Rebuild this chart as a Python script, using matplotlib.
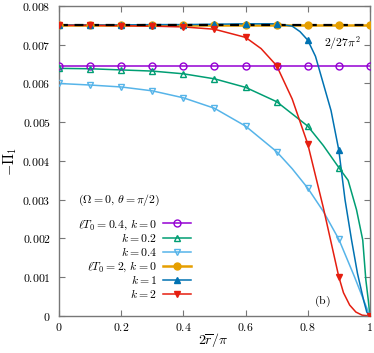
import numpy as np
import matplotlib
matplotlib.use("Agg")
import matplotlib.pyplot as plt

plt.rcParams["mathtext.fontset"] = "cm"
plt.rcParams["font.family"] = "serif"
plt.rcParams["font.serif"] = ["DejaVu Serif"]

# marker positions (every 0.1)
x_marks = [0.0, 0.1, 0.2, 0.3, 0.4, 0.5, 0.6, 0.7, 0.8, 0.9, 1.0]

# lT0 = 0.4
y_a0 = [0.00646] * 11
y_a02 = [0.00639, 0.00638, 0.00635, 0.00632, 0.00625, 0.00612, 0.0059, 0.00553, 0.0049, 0.00383, 0.0]
y_a04 = [0.0060, 0.00596, 0.00591, 0.00581, 0.00563, 0.00536, 0.0049, 0.00424, 0.0033, 0.00198, 0.0]
# lT0 = 2
y_b0 = [2 / (27 * np.pi ** 2)] * 11
y_b1 = [0.00751, 0.00751, 0.00751, 0.00752, 0.00752, 0.00753, 0.00754, 0.00754, 0.00712, 0.00428, 0.0]
y_b2 = [0.00750, 0.00750, 0.00749, 0.00748, 0.00746, 0.0074, 0.00719, 0.00646, 0.00444, 0.00101, 0.0]

# extra points read along the curves between markers
xe_a02 = [0.85, 0.93, 0.957, 0.977, 0.987, 0.995]
ye_a02 = [0.0044, 0.0035, 0.00274, 0.00196, 0.00093, 0.0004]
xe_a04 = [0.75, 0.85, 0.95]
ye_a04 = [0.0038, 0.0027, 0.00102]
xe_b1 = [0.75, 0.775, 0.825, 0.85, 0.875, 0.92, 0.941, 0.96, 0.98, 0.99]
ye_b1 = [0.00748, 0.00734, 0.0067, 0.0060, 0.0053, 0.0030, 0.00196, 0.0011, 0.0004, 0.0001]
xe_b2 = [0.65, 0.75, 0.85, 0.915, 0.935, 0.955, 0.975]
ye_b2 = [0.0069, 0.0056, 0.0028, 0.0006, 0.00028, 0.0001, 0.00002]


def curve(xe, ye, ym):
    xs = np.array(x_marks + xe)
    ys = np.array(ym + ye)
    order = np.argsort(xs)
    return xs[order], ys[order]


fig = plt.figure(figsize=(3.74, 3.53), dpi=100)
ax = fig.add_axes([0.158, 0.105, 0.831, 0.878])

c_pur = "#9400d3"
c_grn = "#009e73"
c_lbl = "#56b4e9"
c_org = "#e69f00"
c_blu = "#0072b2"
c_red = "#e51e10"
lw = 1.1
ms = 5

series = [
    (x_marks, y_a0, [], [], c_pur, "o", "none", r"$\ell T_0 = 0.4,\, k = 0$"),
    (x_marks, y_a02, xe_a02, ye_a02, c_grn, "^", "none", r"$k = 0.2$"),
    (x_marks, y_a04, xe_a04, ye_a04, c_lbl, "v", "none", r"$k = 0.4$"),
    (x_marks, y_b0, [], [], c_org, "o", c_org, r"$\ell T_0 = 2,\, k = 0$"),
    (x_marks, y_b1, xe_b1, ye_b1, c_blu, "^", c_blu, r"$k = 1$"),
    (x_marks, y_b2, xe_b2, ye_b2, c_red, "v", c_red, r"$k = 2$"),
]

handles = []
for xm, ym, xe, ye, col, mk, fc, lab in series:
    xs, ys = curve(xe, ye, ym)
    width = 1.8 if col == c_org else lw
    ax.plot(xs, ys, color=col, lw=width, zorder=2)
    ax.plot(xm, ym, ls="none", marker=mk, ms=ms, mfc=fc, mec=col, mew=1.0, zorder=4)
    h, = ax.plot([], [], color=col, lw=width, marker=mk, ms=ms, mfc=fc, mec=col, mew=1.0)
    handles.append((h, lab))

# 2/27pi^2 reference
ax.axhline(2 / (27 * np.pi ** 2), color="black", lw=1.6, ls=(0, (4, 3)), zorder=3)

ax.set_xlim(0, 1)
ax.set_ylim(0, 0.008)
ax.set_xticks([0, 0.2, 0.4, 0.6, 0.8, 1])
ax.set_xticklabels([r"$0$", r"$0.2$", r"$0.4$", r"$0.6$", r"$0.8$", r"$1$"])
yt = [0, 0.001, 0.002, 0.003, 0.004, 0.005, 0.006, 0.007, 0.008]
ax.set_yticks(yt)
ax.set_yticklabels([r"$0$"] + [r"$%.3f$" % v for v in yt[1:]])
ax.tick_params(direction="in", length=4, width=0.8, top=True, right=True,
               labelsize=8.5, color="#777777", pad=6)
ax.tick_params(axis="x", pad=4)
for spine in ax.spines.values():
    spine.set_color("#777777")
    spine.set_linewidth(1.0)

ax.set_xlabel(r"$2\overline{r}/\pi$", fontsize=10, va="center")
ax.xaxis.set_label_coords(0.495, -0.077)
ax.set_ylabel(r"$-\Pi_1$", fontsize=10.5, labelpad=2)

ax.text(0.91, 0.88, r"$2/27\pi^2$", transform=ax.transAxes, fontsize=8.5, ha="center", va="center")
ax.text(0.846, 0.048, r"$\mathrm{(b)}$", transform=ax.transAxes, fontsize=8.5, ha="center", va="center")
ax.text(0.193, 0.374, r"$(\Omega = 0,\, \theta = \pi/2)$", transform=ax.transAxes,
        fontsize=8.5, ha="center", va="center")

leg = ax.legend([h for h, _ in handles], [l for _, l in handles], loc="upper right",
                bbox_to_anchor=(0.425, 0.318), frameon=False, markerfirst=False,
                fontsize=8.5, handlelength=2.4, handletextpad=0.5, labelspacing=0.05,
                borderpad=0, borderaxespad=0)

fig.savefig("out.png", dpi=100)
